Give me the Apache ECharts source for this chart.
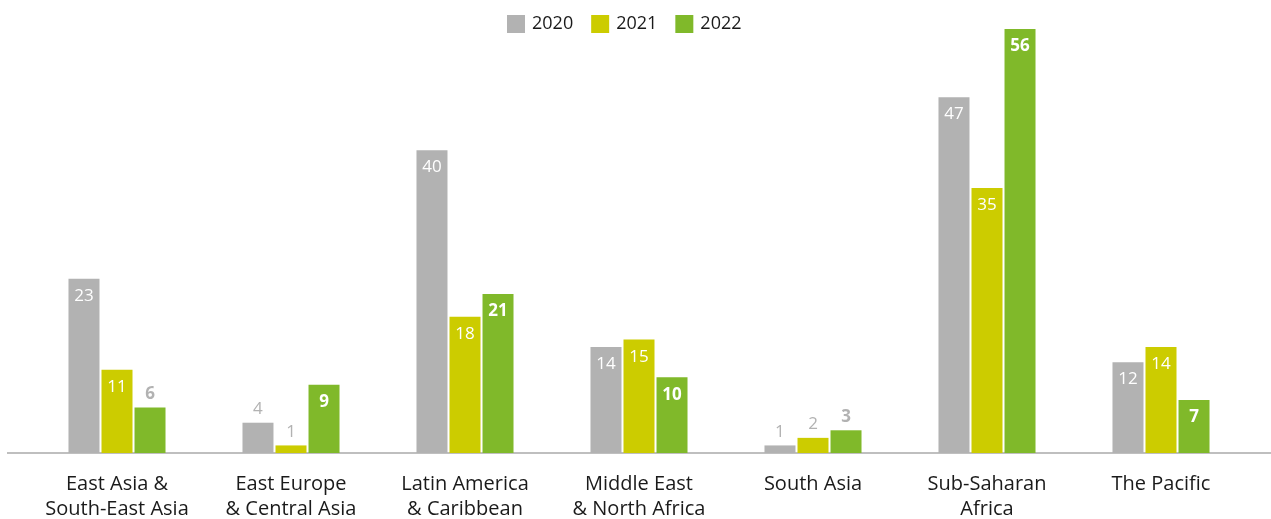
<!DOCTYPE html>
<html>
<head>
<meta charset="utf-8">
<script src="https://cdn.jsdelivr.net/npm/echarts@6/dist/echarts.min.js"></script>
<style>html,body{margin:0;padding:0;background:#fff}#c{width:1271px;height:519px}</style>
</head>
<body>
<div id="c"></div>
<script>
const categories = ['East Asia &\nSouth-East Asia', 'East Europe\n& Central Asia', 'Latin America\n& Caribbean', 'Middle East\n& North Africa', 'South Asia', 'Sub-Saharan\nAfrica', 'The Pacific'];
const seriesNames = ['2020', '2021', '2022'];
const v2020 = [23, 4, 40, 14, 1, 47, 12];
const v2021 = [11, 1, 18, 15, 2, 35, 14];
const v2022 = [6, 9, 21, 10, 3, 56, 7];
const colors = ['#b2b2b2', '#cccc00', '#80b92a'];
const FONT = 'Open Sans';

function mk(name, vals, color, bold) {
  return {
    name: name, type: 'bar', barWidth: 31, barGap: '6.5%',
    itemStyle: { color: color },
    data: vals.map(v => ({
      value: v,
      label: v >= 7
        ? { show: true, position: 'insideTop', distance: 9, color: '#fff', fontSize: 17, fontWeight: bold ? 'bold' : 'normal', fontFamily: FONT }
        : { show: true, position: 'top', distance: 5, color: '#b2b2b2', fontSize: 17, fontWeight: bold ? 'bold' : 'normal', fontFamily: FONT }
    }))
  };
}

const chart = echarts.init(document.getElementById('c'), null, { renderer: 'canvas' });
chart.setOption({
  animation: false,
  legend: {
    top: 10, left: 502, itemWidth: 18, itemHeight: 18, itemGap: 18,
    icon: 'rect',
    textStyle: { fontSize: 18, color: '#1a1a1a', fontFamily: FONT, padding: [0, 0, 0, 2] },
    data: seriesNames
  },
  grid: { left: 30, right: 23, top: 29, bottom: 66, containLabel: false, outerBoundsMode: 'none' },
  xAxis: {
    type: 'category', data: categories,
    axisLine: { show: true, lineStyle: { color: '#bfbfbf', width: 2 } },
    axisTick: { show: false },
    axisLabel: { fontSize: 20, color: '#1a1a1a', fontFamily: FONT, lineHeight: 25, margin: 19, interval: 0 }
  },
  yAxis: { type: 'value', min: 0, max: 56, show: false, splitLine: { show: false } },
  graphic: [{
    type: 'line', z: 0,
    shape: { x1: 7, y1: 453, x2: 1271, y2: 453 },
    style: { stroke: '#bfbfbf', lineWidth: 2 }
  }],
  series: [mk('2020', v2020, colors[0], false), mk('2021', v2021, colors[1], false), mk('2022', v2022, colors[2], true)]
});
</script>
</body>
</html>
